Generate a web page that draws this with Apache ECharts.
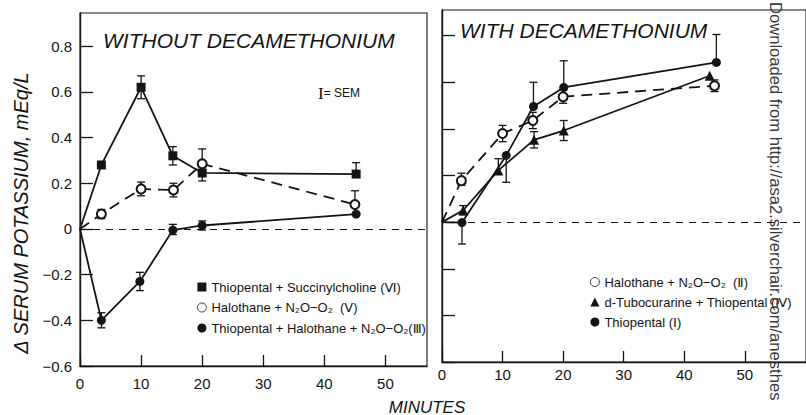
<!DOCTYPE html>
<html>
<head>
<meta charset="utf-8">
<title>Serum potassium, with and without decamethonium</title>
<script src="https://cdn.jsdelivr.net/npm/echarts@6/dist/echarts.min.js"></script>
<style>
  html, body { margin: 0; padding: 0; background: #fff; }
  #container { width: 806px; height: 415px; }
</style>
</head>
<body>
<div id="container"></div>
<script>
// axis ticks
var yTicks = [-0.6, -0.4, -0.2, 0, 0.2, 0.4, 0.6, 0.8];
var yTickLabels = ['−0.6', '−0.4', '−0.2', '0', '0.2', '0.4', '0.6', '0.8'];
var xTicks = [0, 10, 20, 30, 40, 50];
var xTickLabels = ['0', '10', '20', '30', '40', '50'];

// WITHOUT DECAMETHONIUM
var succName = 'Thiopental + Succinylcholine (Ⅵ)';
var succX = [0, 3.5, 10, 15.2, 20, 45.2];
var succY = [0, 0.28, 0.62, 0.32, 0.245, 0.24];
var succUp = [0, 0, 0.05, 0.04, 0, 0.05];
var succDn = [0, 0, 0.05, 0.04, 0.035, 0];

var haloVName = 'Halothane + N₂O−O₂  (Ⅴ)';
var haloVX = [0, 3.5, 10, 15.3, 20, 45];
var haloVY = [0, 0.065, 0.175, 0.17, 0.285, 0.107];
var haloVUp = [0, 0.02, 0.03, 0.03, 0.065, 0.06];
var haloVDn = [0, 0.02, 0.03, 0.03, 0, 0];

var thioHaloName = 'Thiopental + Halothane + N₂O−O₂(Ⅲ)';
var thioHaloX = [0, 3.5, 9.8, 15.2, 20, 45.2];
var thioHaloY = [0, -0.40, -0.23, -0.005, 0.015, 0.065];
var thioHaloUp = [0, 0.033, 0.04, 0.025, 0.02, 0];
var thioHaloDn = [0, 0.033, 0.04, 0.02, 0.02, 0];

// WITH DECAMETHONIUM
var haloIIName = 'Halothane + N₂O−O₂  (Ⅱ)';
var haloIIX = [0, 3.2, 10, 15, 20, 45];
var haloIIY = [0, 0.178, 0.38, 0.436, 0.538, 0.585];
var haloIIUp = [0, 0.032, 0.035, 0.035, 0.028, 0.025];
var haloIIDn = [0, 0.02, 0.035, 0.035, 0.028, 0.025];

var tuboName = 'd-Tubocurarine + Thiopental (Ⅳ)';
var tuboX = [0, 3.5, 9.3, 15.2, 20.1, 44.2];
var tuboY = [0, 0.051, 0.222, 0.353, 0.393, 0.628];
var tuboUp = [0, 0.02, 0.05, 0.035, 0.043, 0];
var tuboDn = [0, 0.02, 0, 0.035, 0.043, 0];

var thioName = 'Thiopental (Ⅰ)';
var thioX = [0, 3.3, 10.6, 15.1, 20.1, 45.3];
var thioY = [0, -0.002, 0.286, 0.496, 0.578, 0.685];
var thioUp = [0, 0, 0, 0.104, 0.114, 0.12];
var thioDn = [0, 0.092, 0.115, 0, 0, 0];

var INK = '#141414';
var FONT = 'Liberation Sans, DejaVu Sans, sans-serif';

function points(xs, ys) {
    return xs.map(function (x, i) {
        // the curves meet at the origin without a marker
        if (i === 0) return { value: [x, ys[i]], symbol: 'none' };
        return [x, ys[i]];
    });
}

function lineSeries(name, xs, ys, idx, symbol, dashed) {
    return {
        type: 'line',
        name: name,
        xAxisIndex: idx,
        yAxisIndex: idx,
        data: points(xs, ys),
        symbol: symbol,
        symbolSize: symbol === 'triangle' ? 10 : 9,
        lineStyle: { color: INK, width: 1.8, type: dashed ? [11, 7] : 'solid' },
        itemStyle: { color: INK, borderColor: INK, borderWidth: symbol === 'emptyCircle' ? 1.5 : 0 },
        z: 4,
        animation: false
    };
}

function errSeries(xs, ys, up, dn, idx) {
    return {
        type: 'custom',
        name: 'err' + idx,
        xAxisIndex: idx,
        yAxisIndex: idx,
        encode: { x: 0, y: 1 },
        data: xs.map(function (x, i) { return [x, ys[i], up[i], dn[i]]; }),
        renderItem: function (params, api) {
            var x = api.value(0), y = api.value(1), u = api.value(2), d = api.value(3);
            if (!u && !d) return null;
            var top = api.coord([x, y + u]);
            var bot = api.coord([x, y - d]);
            var st = { stroke: INK, lineWidth: 1.3 };
            var kids = [{ type: 'line', shape: { x1: top[0], y1: top[1], x2: bot[0], y2: bot[1] }, style: st }];
            if (u) kids.push({ type: 'line', shape: { x1: top[0] - 4, y1: top[1], x2: top[0] + 4, y2: top[1] }, style: st });
            if (d) kids.push({ type: 'line', shape: { x1: bot[0] - 4, y1: bot[1], x2: bot[0] + 4, y2: bot[1] }, style: st });
            return { type: 'group', children: kids };
        },
        z: 3,
        animation: false
    };
}

function zeroLine() {
    return {
        silent: true,
        symbol: 'none',
        label: { show: false },
        lineStyle: { color: INK, type: [7, 6], width: 1 },
        data: [{ yAxis: 0 }]
    };
}

function xAxis(idx, max, margin) {
    return {
        type: 'value', gridIndex: idx, min: 0, max: max,
        axisLine: { onZero: false, lineStyle: { color: INK, width: 1.4 } },
        axisTick: { inside: true, length: 11, customValues: xTicks, lineStyle: { color: INK, width: 1.3 } },
        axisLabel: {
            customValues: xTicks, margin: margin, color: INK, fontSize: 15, fontFamily: FONT,
            formatter: function (v) { return xTickLabels[xTicks.indexOf(v)]; }
        },
        splitLine: { show: false }
    };
}

function yAxis(idx, max, labels) {
    return {
        type: 'value', gridIndex: idx, min: -0.6, max: max,
        axisLine: { onZero: false, lineStyle: { color: INK, width: 1.4 } },
        axisTick: { inside: true, length: 13, customValues: yTicks, lineStyle: { color: INK, width: 1.3 } },
        axisLabel: {
            show: labels, customValues: yTicks, margin: 8, color: INK, fontSize: 15, fontFamily: FONT,
            formatter: function (v) {
                for (var i = 0; i < yTicks.length; i++) {
                    if (Math.abs(yTicks[i] - v) < 1e-6) return yTickLabels[i];
                }
                return '';
            }
        },
        splitLine: { show: false }
    };
}

var left0 = lineSeries(succName, succX, succY, 0, 'rect', false);
left0.markLine = zeroLine();
var right0 = lineSeries(haloIIName, haloIIX, haloIIY, 1, 'emptyCircle', true);
right0.markLine = zeroLine();

var legendText = { fontSize: 13, color: INK, fontFamily: FONT, lineHeight: 14 };
var thinRing = { color: '#fff', borderColor: INK, borderWidth: 0.8 };

var option = {
    backgroundColor: '#fff',
    animation: false,
    grid: [
        { left: 80, top: 13, width: 347, height: 353, show: true, borderColor: INK, borderWidth: 1.1, backgroundColor: 'transparent' },
        { left: 442, top: 10, width: 368, height: 352, show: true, borderColor: INK, borderWidth: 1.1, backgroundColor: 'transparent' }
    ],
    xAxis: [xAxis(0, 56.8, 10), xAxis(1, 60.1, 5)],
    yAxis: [yAxis(0, 0.945, true), yAxis(1, 0.91, false)],
    legend: [{
        left: 197, top: 280, padding: 0, orient: 'vertical', itemGap: 6.5, itemWidth: 9, itemHeight: 9,
        selectedMode: false, textStyle: legendText,
        data: [
            { name: succName, icon: 'rect' },
            { name: haloVName, icon: 'circle', itemStyle: thinRing },
            { name: thioHaloName, icon: 'circle' }
        ]
    }, {
        left: 590, top: 275, padding: 0, orient: 'vertical', itemGap: 6, itemWidth: 9, itemHeight: 9,
        selectedMode: false, textStyle: legendText,
        data: [
            { name: haloIIName, icon: 'circle', itemStyle: thinRing },
            { name: tuboName, icon: 'triangle' },
            { name: thioName, icon: 'circle' }
        ]
    }],
    graphic: [
        { type: 'text', x: 103, y: 40, style: { text: 'WITHOUT DECAMETHONIUM', fill: INK, font: 'italic 21px ' + FONT, verticalAlign: 'middle' } },
        { type: 'text', x: 460, y: 30, style: { text: 'WITH DECAMETHONIUM', fill: INK, font: 'italic 21px ' + FONT, verticalAlign: 'middle' } },
        { type: 'text', x: 318, y: 93, style: {
            text: '{a|I}{b|= SEM}', verticalAlign: 'middle', fill: INK,
            rich: { a: { fontSize: 17, fontFamily: 'Liberation Serif, serif', fill: INK }, b: { fontSize: 12, fontFamily: FONT, fill: INK } }
        } },
        { type: 'text', x: 427, y: 407, style: { text: 'MINUTES', fill: INK, font: 'italic 17px ' + FONT, align: 'center', verticalAlign: 'middle' } },
        { type: 'text', x: 21, y: 213, rotation: Math.PI / 2, style: { text: 'Δ SERUM POTASSIUM, mEq/L', fill: INK, font: 'italic 20px ' + FONT, align: 'center', verticalAlign: 'middle' } },
        { type: 'text', x: 775, y: 2, rotation: -Math.PI / 2, z: 10, style: { text: 'Downloaded from http://asa2.silverchair.com/anesthes', fill: '#3a3a3a', font: '16.6px ' + FONT, align: 'left', verticalAlign: 'middle' } }
    ],
    series: [
        left0,
        lineSeries(haloVName, haloVX, haloVY, 0, 'emptyCircle', true),
        lineSeries(thioHaloName, thioHaloX, thioHaloY, 0, 'circle', false),
        errSeries(succX, succY, succUp, succDn, 0),
        errSeries(haloVX, haloVY, haloVUp, haloVDn, 0),
        errSeries(thioHaloX, thioHaloY, thioHaloUp, thioHaloDn, 0),
        right0,
        lineSeries(tuboName, tuboX, tuboY, 1, 'triangle', false),
        lineSeries(thioName, thioX, thioY, 1, 'circle', false),
        errSeries(haloIIX, haloIIY, haloIIUp, haloIIDn, 1),
        errSeries(tuboX, tuboY, tuboUp, tuboDn, 1),
        errSeries(thioX, thioY, thioUp, thioDn, 1)
    ]
};

var myChart = echarts.init(document.getElementById('container'), null, { renderer: 'svg' });
myChart.setOption(option);
</script>
</body>
</html>
